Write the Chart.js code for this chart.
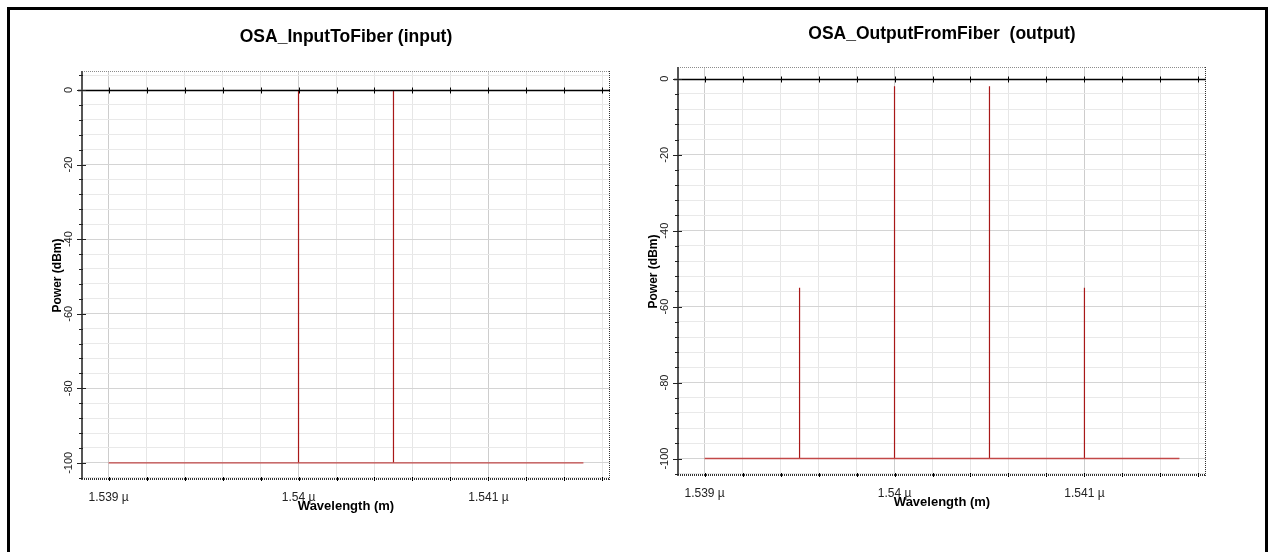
<!DOCTYPE html>
<html>
<head>
<meta charset="utf-8">
<title>OSA spectra</title>
<script src="https://cdn.jsdelivr.net/npm/chart.js@4.4.1/dist/chart.umd.min.js"></script>
<style>
  html, body { margin: 0; padding: 0; background: #fff; }
  #page { position: relative; width: 1268px; height: 552px; overflow: hidden; background: #fff; }
  #frame { position: absolute; left: 7px; top: 7px; width: 1255px; height: 600px;
           border: 3px solid #000; border-bottom: none; }
  canvas { position: absolute; }
  #osaIn { left: 10px; top: 10px; }
  #osaOut { left: 606px; top: 10px; }
</style>
</head>
<body>
<div id="page">
  <div id="frame"></div>
  <canvas id="osaIn" width="620" height="542"></canvas>
  <canvas id="osaOut" width="620" height="542"></canvas>
</div>
<script>
// wavelengths in µm, powers in dBm
const noiseFloorDbm = -100;
const sweepStartUm = 1.539;
const sweepEndUm = 1.5415;

const inputPeakWl = [1.54, 1.5405];
const inputPeakDbm = [0, 0];

const outputPeakWl = [1.5395, 1.54, 1.5405, 1.541];
const outputPeakDbm = [-55, -2, -2, -55];

const xTickValues = [1.539, 1.5392, 1.5394, 1.5396, 1.5398, 1.54, 1.5402, 1.5404,
                     1.5406, 1.5408, 1.541, 1.5412, 1.5414, 1.5416];
const xMajorValues = [1.539, 1.54, 1.541];
const xTickLabels = ['1.539 µ', '1.54 µ', '1.541 µ'];

const FONT = '"Liberation Sans", Arial, sans-serif';

// flat noise floor across the sweep
function floorTrace() {
    return [{ x: sweepStartUm, y: noiseFloorDbm }, { x: sweepEndUm, y: noiseFloorDbm }];
}

// one vertical line per peak, separated by gaps
function peakTrace(peakWl, peakDbm) {
    const pts = [];
    peakWl.forEach((wl, i) => {
        pts.push({ x: wl, y: noiseFloorDbm });
        pts.push({ x: wl, y: peakDbm[i] });
        pts.push({ x: wl, y: null });
    });
    return pts;
}

function isMajorX(v) {
    return xMajorValues.findIndex(m => Math.abs(m - v) < 1e-7);
}

function line(ctx, x1, y1, x2, y2) {
    ctx.beginPath();
    ctx.moveTo(x1, y1);
    ctx.lineTo(x2, y2);
    ctx.stroke();
}

// axis line, zero line, dotted frame, tick marks and rotated y labels
const osaAxes = {
    id: 'osaAxes',
    afterDatasetsDraw(chart) {
        const { ctx, chartArea: a, scales: { x, y } } = chart;
        ctx.save();

        ctx.setLineDash([1, 1]);
        ctx.lineWidth = 1;
        ctx.strokeStyle = '#8c8c8c';
        line(ctx, a.left, a.top + 0.5, a.right, a.top + 0.5);
        ctx.strokeStyle = '#333';
        line(ctx, a.right - 0.5, a.top, a.right - 0.5, a.bottom);
        ctx.lineWidth = 2;
        line(ctx, a.left, a.bottom - 1, a.right, a.bottom - 1);
        ctx.setLineDash([]);

        const y0 = Math.round(y.getPixelForValue(0)) + 0.5;
        ctx.strokeStyle = '#000';
        ctx.lineWidth = 1.5;
        line(ctx, a.left - 4, y0, a.right, y0);

        ctx.lineWidth = 1;
        x.ticks.forEach(t => {
            const px = Math.round(x.getPixelForValue(t.value)) + 0.5;
            line(ctx, px, y0 - 3, px, y0 + 3);
            line(ctx, px, a.bottom - 3, px, a.bottom + 1);
        });

        ctx.strokeStyle = '#555';
        ctx.lineWidth = 2;
        line(ctx, a.left, a.top, a.left, a.bottom);
        ctx.strokeStyle = '#222';
        ctx.lineWidth = 1;
        y.ticks.forEach(t => {
            const py = Math.round(y.getPixelForValue(t.value)) + 0.5;
            const major = t.value % 20 === 0;
            line(ctx, a.left - (major ? 5 : 3), py, a.left + (major ? 4 : 1), py);
        });

        ctx.fillStyle = '#222';
        ctx.font = '11px ' + FONT;
        ctx.textAlign = 'center';
        ctx.textBaseline = 'middle';
        y.ticks.forEach(t => {
            if (t.value % 20 !== 0) return;
            const py = y.getPixelForValue(t.value);
            ctx.save();
            ctx.translate(a.left - 13, py);
            ctx.rotate(-Math.PI / 2);
            ctx.fillText(String(t.value), 0, 0);
            ctx.restore();
        });
        ctx.restore();
    }
};

function makeChart(canvasId, title, peakWl, peakDbm, yMin, yMax, pad) {
    const yTicks = [];
    for (let v = Math.ceil(yMin / 4) * 4; v <= yMax; v += 4) yTicks.push(v);

    return new Chart(document.getElementById(canvasId).getContext('2d'), {
        type: 'line',
        data: {
            datasets: [
                {
                    data: floorTrace(),
                    borderColor: '#c24848',
                    borderWidth: 1.4,
                    pointRadius: 0,
                    tension: 0,
                    fill: false
                },
                {
                    data: peakTrace(peakWl, peakDbm),
                    borderColor: '#a81818',
                    borderWidth: 1.2,
                    pointRadius: 0,
                    tension: 0,
                    spanGaps: false,
                    fill: false
                }
            ]
        },
        options: {
            responsive: false,
            animation: false,
            events: [],
            layout: { padding: { left: 0, right: 20, top: 0, bottom: pad.bottom } },
            plugins: {
                legend: { display: false },
                tooltip: { enabled: false },
                title: {
                    display: true,
                    text: title,
                    fullSize: false,
                    color: '#000',
                    font: { family: FONT, size: 17.5, weight: 'bold', lineHeight: '20px' },
                    padding: { top: pad.titleTop, bottom: pad.titleBottom }
                }
            },
            scales: {
                x: {
                    type: 'linear',
                    min: 1.53886,
                    max: 1.54164,
                    afterBuildTicks: s => { s.ticks = xTickValues.map(v => ({ value: v })); },
                    afterFit: s => { s.height = 34; },
                    border: { display: false },
                    grid: {
                        drawTicks: false,
                        color: c => isMajorX(c.tick.value) >= 0 ? '#cdcdcd' : '#e6e6e6'
                    },
                    ticks: {
                        autoSkip: false,
                        maxRotation: 0,
                        padding: 10,
                        color: '#222',
                        font: { family: FONT, size: 12 },
                        callback: v => {
                            const i = isMajorX(v);
                            return i >= 0 ? xTickLabels[i] : '';
                        }
                    },
                    title: {
                        display: true,
                        text: 'Wavelength (m)',
                        color: '#000',
                        padding: 0,
                        font: { family: FONT, size: 13, weight: 'bold' }
                    }
                },
                y: {
                    min: yMin,
                    max: yMax,
                    afterBuildTicks: s => { s.ticks = yTicks.map(v => ({ value: v })); },
                    afterFit: s => { s.width = 72; },
                    border: { display: false },
                    grid: {
                        drawTicks: false,
                        color: c => c.tick.value === 0 ? 'rgba(0,0,0,0)'
                            : (c.tick.value % 20 === 0 ? '#d4d4d4' : '#e9e9e9')
                    },
                    ticks: { display: false },
                    title: {
                        display: true,
                        text: 'Power (dBm)',
                        color: '#000',
                        padding: { top: 40, bottom: 0 },
                        font: { family: FONT, size: 12, weight: 'bold' }
                    }
                }
            }
        },
        plugins: [osaAxes]
    });
}

makeChart('osaIn', 'OSA_InputToFiber (input)', inputPeakWl, inputPeakDbm, -104.6, 5.1,
    { titleTop: 17, titleBottom: 24, bottom: 38 });
makeChart('osaOut', 'OSA_OutputFromFiber  (output)', outputPeakWl, outputPeakDbm, -104.6, 3.1,
    { titleTop: 14, titleBottom: 23, bottom: 42 });
</script>
</body>
</html>
